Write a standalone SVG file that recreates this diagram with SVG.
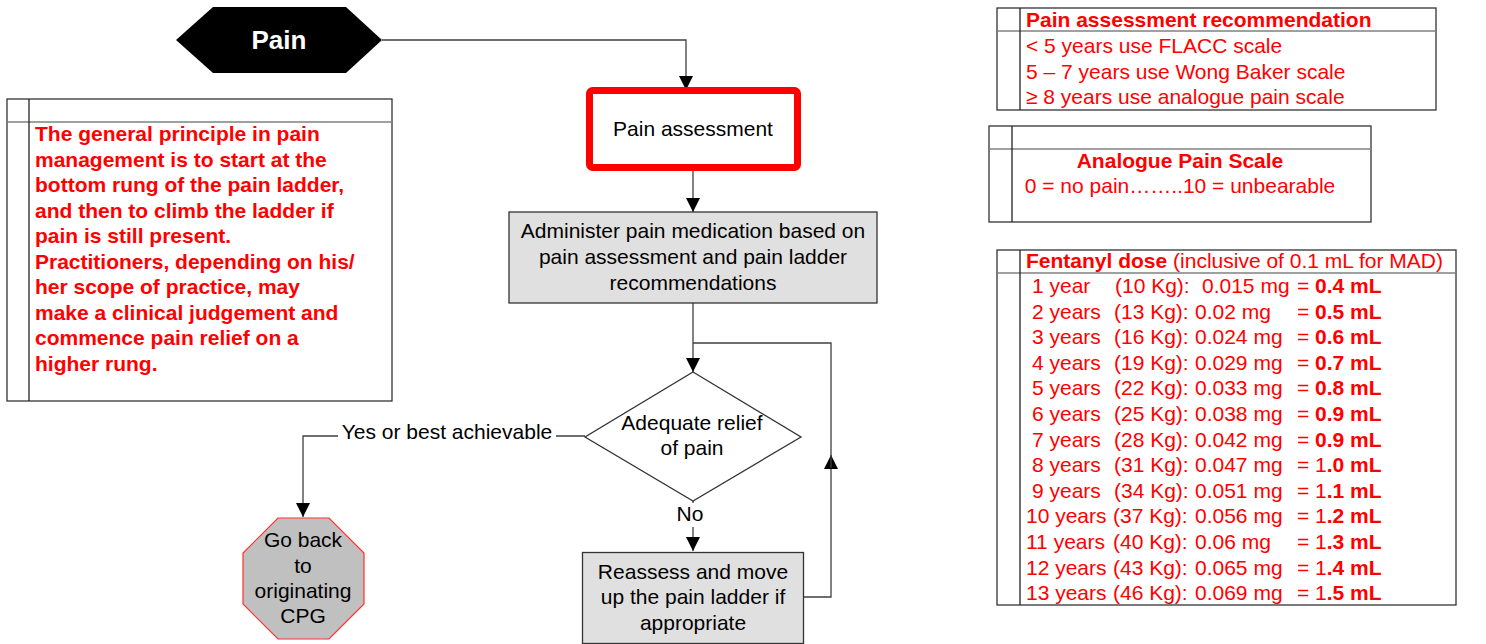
<svg xmlns="http://www.w3.org/2000/svg" width="1486" height="644" viewBox="0 0 1486 644">
<style>
.t{font-family:"Liberation Sans",Arial,sans-serif;font-size:21px;fill:#000}
.red{fill:#ff0000}
.b{font-weight:bold}
.c{text-anchor:middle}
.conn{fill:none;stroke:#404040;stroke-width:1.3}
.box{fill:#fff;stroke:#333;stroke-width:1.3}
.dv{fill:none;stroke:#808080;stroke-width:1.3}
.vl{fill:none;stroke:#222;stroke-width:1.3}
.grey{fill:#e0e0e0;stroke:#333;stroke-width:1.3}
</style>
<defs>
<marker id="ah" markerUnits="userSpaceOnUse" markerWidth="14" markerHeight="14" refX="14" refY="7" orient="auto">
<path d="M0,0 L14,7 L0,14 z" fill="#000"/>
</marker>
</defs>
<rect width="1486" height="644" fill="#fff"/>

<g id="connectors">
<path class="conn" d="M382,40 H686 V90" marker-end="url(#ah)"/>
<path class="conn" d="M693,171 V212" marker-end="url(#ah)"/>
<path class="conn" d="M693,303 V372" marker-end="url(#ah)"/>
<path class="conn" d="M585,436 H303 V517" marker-end="url(#ah)"/>
<path class="conn" d="M693,501 V551" marker-end="url(#ah)"/>
<path class="conn" d="M803,597 H831 V455" marker-end="url(#ah)"/>
<path class="conn" d="M831,468 V343 H693"/>
<rect x="338" y="422" width="218" height="24" fill="#fff"/>
<text class="t" x="447" y="439" text-anchor="middle">Yes or best achievable</text>
<rect x="672" y="503" width="38" height="24" fill="#fff"/>
<text class="t c" x="690" y="521">No</text>
</g>

<g id="pain">
<polygon points="176,40 213,7 346,7 382,40 346,73 213,73" fill="#000"/>
<text class="t b c" x="279" y="49" style="font-size:26px;fill:#fff">Pain</text>
</g>

<g id="pain-assessment">
<rect x="589.5" y="90.5" width="208" height="77" rx="3" fill="#fff" stroke="#ff0000" stroke-width="7"/>
<text class="t c" x="693" y="136">Pain assessment</text>
</g>

<g id="administer">
<rect class="grey" x="509" y="212" width="368" height="91"/>
<text class="t c" x="693" y="238">Administer pain medication based on</text>
<text class="t c" x="693" y="264">pain assessment and pain ladder</text>
<text class="t c" x="693" y="290">recommendations</text>
</g>

<g id="decision">
<polygon points="693,372 801,437 693,501 585,437" fill="#fff" stroke="#333" stroke-width="1.3"/>
<text class="t c" x="692" y="430">Adequate relief</text>
<text class="t c" x="692" y="455">of pain</text>
</g>

<g id="reassess">
<rect class="grey" x="582.5" y="552.5" width="221" height="91"/>
<text class="t c" x="693" y="579">Reassess and move</text>
<text class="t c" x="693" y="604">up the pain ladder if</text>
<text class="t c" x="693" y="630">appropriate</text>
</g>

<g id="go-back">
<polygon points="278,518 329,518 364,553 364,604 329,639 278,639 243,604 243,553" fill="#c0c0c0" stroke="#ff3030" stroke-width="1.2"/>
<text class="t c" x="303" y="547">Go back</text>
<text class="t c" x="303" y="573">to</text>
<text class="t c" x="303" y="598">originating</text>
<text class="t c" x="303" y="623">CPG</text>
</g>

<g id="principle-note">
<rect class="box" x="7" y="99" width="385" height="302"/>
<line class="dv" x1="7" y1="122" x2="392" y2="122"/>
<line class="vl" x1="29" y1="99" x2="29" y2="401"/>
<g class="t b red">
<text x="35" y="141">The general principle in pain</text>
<text x="35" y="166.5">management is to start at the</text>
<text x="35" y="192">bottom rung of the pain ladder,</text>
<text x="35" y="217.5">and then to climb the ladder if</text>
<text x="35" y="243">pain is still present.</text>
<text x="35" y="268.5">Practitioners, depending on his/</text>
<text x="35" y="294">her scope of practice, may</text>
<text x="35" y="319.5">make a clinical judgement and</text>
<text x="35" y="345">commence pain relief on a</text>
<text x="35" y="370.5">higher rung.</text>
</g>
</g>

<g id="assessment-recommendation">
<rect class="box" x="997" y="8" width="439" height="102"/>
<line class="dv" x1="997" y1="31" x2="1436" y2="31"/>
<line class="vl" x1="1020" y1="8" x2="1020" y2="110"/>
<text class="t b red" x="1026" y="27">Pain assessment recommendation</text>
<text class="t red" x="1026" y="53">&lt; 5 years use FLACC scale</text>
<text class="t red" x="1026" y="78.5">5 – 7 years use Wong Baker scale</text>
<text class="t red" x="1026" y="104">≥ 8 years use analogue pain scale</text>
</g>

<g id="analogue-scale">
<rect class="box" x="989" y="126" width="382" height="96"/>
<line class="dv" x1="989" y1="149" x2="1371" y2="149"/>
<line class="vl" x1="1012" y1="126" x2="1012" y2="222"/>
<text class="t b red c" x="1180" y="168">Analogue Pain Scale</text>
<text class="t red c" x="1180" y="193">0 = no pain……..10 = unbearable</text>
</g>

<g id="fentanyl-dose">
<rect class="box" x="997" y="250" width="459" height="355"/>
<line class="dv" x1="997" y1="273" x2="1456" y2="273"/>
<line class="vl" x1="1020" y1="250" x2="1020" y2="605"/>
<text class="t red" x="1026" y="268"><tspan class="b">Fentanyl dose</tspan> (inclusive of 0.1 mL for MAD)</text>
<g class="t red">
<text y="293"><tspan x="1032">1 year</tspan><tspan x="1115">(10 Kg):</tspan><tspan x="1202">0.015 mg</tspan><tspan x="1297">=</tspan><tspan x="1315" class="b">0.4 mL</tspan></text>
<text y="318.6"><tspan x="1032">2 years</tspan><tspan x="1114">(13 Kg):</tspan><tspan x="1195">0.02 mg</tspan><tspan x="1297">=</tspan><tspan x="1315" class="b">0.5 mL</tspan></text>
<text y="344.2"><tspan x="1032">3 years</tspan><tspan x="1114">(16 Kg):</tspan><tspan x="1195">0.024 mg</tspan><tspan x="1297">=</tspan><tspan x="1315" class="b">0.6 mL</tspan></text>
<text y="369.8"><tspan x="1032">4 years</tspan><tspan x="1114">(19 Kg):</tspan><tspan x="1195">0.029 mg</tspan><tspan x="1297">=</tspan><tspan x="1315" class="b">0.7 mL</tspan></text>
<text y="395.4"><tspan x="1032">5 years</tspan><tspan x="1114">(22 Kg):</tspan><tspan x="1195">0.033 mg</tspan><tspan x="1297">=</tspan><tspan x="1315" class="b">0.8 mL</tspan></text>
<text y="421"><tspan x="1032">6 years</tspan><tspan x="1114">(25 Kg):</tspan><tspan x="1195">0.038 mg</tspan><tspan x="1297">=</tspan><tspan x="1315" class="b">0.9 mL</tspan></text>
<text y="446.6"><tspan x="1032">7 years</tspan><tspan x="1114">(28 Kg):</tspan><tspan x="1195">0.042 mg</tspan><tspan x="1297">=</tspan><tspan x="1315" class="b">0.9 mL</tspan></text>
<text y="472.2"><tspan x="1032">8 years</tspan><tspan x="1114">(31 Kg):</tspan><tspan x="1195">0.047 mg</tspan><tspan x="1297">=</tspan><tspan x="1315">1</tspan><tspan class="b">.0 mL</tspan></text>
<text y="497.8"><tspan x="1032">9 years</tspan><tspan x="1114">(34 Kg):</tspan><tspan x="1195">0.051 mg</tspan><tspan x="1297">=</tspan><tspan x="1315">1</tspan><tspan class="b">.1 mL</tspan></text>
<text y="523.4"><tspan x="1026">10 years</tspan><tspan x="1113">(37 Kg):</tspan><tspan x="1195">0.056 mg</tspan><tspan x="1297">=</tspan><tspan x="1315">1</tspan><tspan class="b">.2 mL</tspan></text>
<text y="549"><tspan x="1026">11 years</tspan><tspan x="1113">(40 Kg):</tspan><tspan x="1195">0.06 mg</tspan><tspan x="1297">=</tspan><tspan x="1315">1</tspan><tspan class="b">.3 mL</tspan></text>
<text y="574.6"><tspan x="1026">12 years</tspan><tspan x="1113">(43 Kg):</tspan><tspan x="1195">0.065 mg</tspan><tspan x="1297">=</tspan><tspan x="1315">1</tspan><tspan class="b">.4 mL</tspan></text>
<text y="600.2"><tspan x="1026">13 years</tspan><tspan x="1113">(46 Kg):</tspan><tspan x="1195">0.069 mg</tspan><tspan x="1297">=</tspan><tspan x="1315">1</tspan><tspan class="b">.5 mL</tspan></text>
</g>
</g>
</svg>
